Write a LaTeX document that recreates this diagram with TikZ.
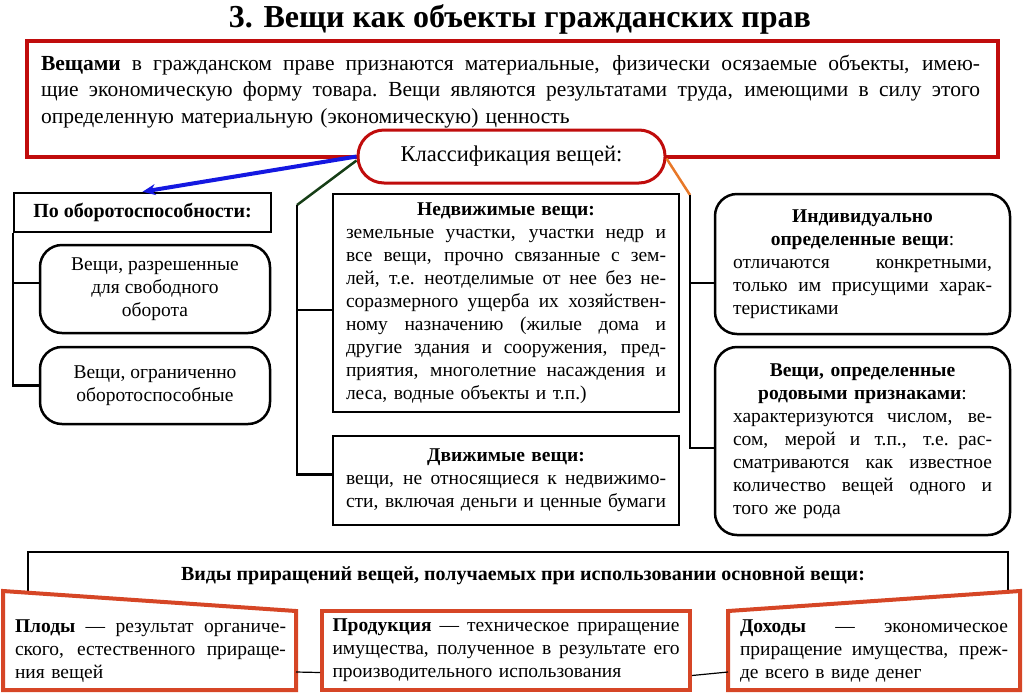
\documentclass[tikz,border=0pt]{standalone}
\usepackage{fontspec}
\setmainfont{Liberation Serif}
\usepackage{xcolor}
\usetikzlibrary{arrows.meta}
\usetikzlibrary{positioning}
\setlength{\parindent}{0pt}
\definecolor{boxred}{RGB}{192,12,12}
\definecolor{fruitred}{RGB}{214,70,38}
\definecolor{linkblue}{RGB}{20,24,225}
\definecolor{linkgreen}{RGB}{22,62,22}
\definecolor{linkorange}{RGB}{232,120,40}
\newcommand{\jfill}[1]{\leavevmode\hbox to\hsize{\spaceskip=0.25em plus 1fil\relax #1}}
\newcommand{\jline}[1]{\jfill{#1}\\}
\newcommand{\ctrline}[1]{\makebox[\hsize][c]{#1}\\}

\begin{document}
\begin{tikzpicture}[x=1pt,y=-1pt]
\tikzstyle{every node}=[font=\fontsize{19.5}{23}\selectfont, inner sep=0pt]
\tikzstyle{sqbox}=[draw, line width=2.5pt, fill=white]
\tikzstyle{rndbox}=[draw, line width=2.5pt, fill=white, rounded corners=22pt]
\tikzstyle{redbox}=[draw=fruitred, line width=4pt, fill=white]
\tikzstyle{para}=[align=left]
\tikzstyle{link}=[line width=2.5pt]
\tikzstyle{thinlink}=[line width=1.2pt]
\useasboundingbox (0,0) rectangle (1024,694);
\node [font=\bfseries\fontsize{32}{38}\selectfont] (title) at (520,19.5) {3. Вещи как объекты гражданских прав};
\node [draw=boxred, line width=4.5pt, minimum width=971pt, minimum height=116pt] (defbox) at (512.5,99) {};
\node [para, text width=939pt, font=\fontsize{21.5}{26.5}\selectfont] (deftext) at (510.5,91.5) {\jline{\textbf{Вещами} в гражданском праве признаются материальные, физически осязаемые объекты, имею-}\jline{щие экономическую форму товара. Вещи являются результатами труда, имеющими в силу этого}определенную материальную (экономическую) ценность};
\node [draw=boxred, line width=3pt, fill=white, minimum width=307pt, minimum height=53pt, rounded corners=26pt, font=\fontsize{22.5}{26}\selectfont] (cls) at (511.5,156.5) {Классификация вещей:};
\node [sqbox, minimum width=257pt, minimum height=39pt, font=\bfseries\fontsize{20}{23}\selectfont] (obor) at (142.5,212.5) {По оборотоспособности:};
\node [rndbox, minimum width=230pt, minimum height=88pt, align=center] (free) at (155,289) {Вещи, разрешенные\\для свободного\\оборота};
\node [rndbox, minimum width=230pt, minimum height=77pt, align=center] (lim) at (155,385.5) {Вещи, ограниченно\\оборотоспособные};
\node [sqbox, minimum width=346pt, minimum height=218pt, text width=320pt, para] (immov) at (506,303) {\ctrline{\textbf{Недвижимые вещи:}}\jline{земельные участки, участки недр и}\jline{все вещи, прочно связанные с зем-}\jline{лей, т.е. неотделимые от нее без не-}\jline{соразмерного ущерба их хозяйствен-}\jline{ному назначению (жилые дома и}\jline{другие здания и сооружения, пред-}\jline{приятия, многолетние насаждения и}леса, водные объекты и т.п.)};
\node [sqbox, minimum width=346pt, minimum height=89pt, text width=320pt, para] (mov) at (506,480.5) {\ctrline{\textbf{Движимые вещи:}}\jline{вещи, не относящиеся к недвижимо-}\jfill{сти, включая деньги и ценные бумаги}};
\node [rndbox, minimum width=295pt, minimum height=140pt, text width=259pt, para] (ind) at (862.5,264) {\ctrline{\textbf{Индивидуально}}\ctrline{\textbf{определенные вещи}:}\jline{отличаются конкретными,}\jline{только им присущими харак-}теристиками};
\node [rndbox, minimum width=295pt, minimum height=188pt, text width=259pt, para] (gen) at (862.5,441) {\ctrline{\textbf{Вещи, определенные}}\ctrline{\textbf{родовыми признаками}:}\jline{характеризуются числом, ве-}\jline{сом, мерой и т.п., т.е. рас-}\jline{сматриваются как известное}\jline{количество вещей одного и}того же рода};
\coordinate (gturn) at (297,205);
\coordinate (oturn) at (690,195);
\draw [link, draw=linkblue, line width=4pt, -{Stealth[length=13pt,width=11pt]}] (cls.west) -- (obor.north);
\draw [link, draw=linkgreen] ([yshift=-4pt]cls.west) -- (gturn);
\draw [link] (gturn) |- ([yshift=-7pt]immov.west);
\draw [link] (gturn) |- ([yshift=6pt]mov.west);
\draw [link, draw=linkorange] ([yshift=-2pt]cls.east) -- (oturn);
\draw [link] (oturn) |- ([yshift=-19pt]ind.west);
\draw [link] (oturn) |- ([yshift=-7pt]gen.west);
\draw [link] (obor.south west) |- ([yshift=6pt]free.west);
\draw [link] (obor.south west) |- (lim.west);
\draw [thinlink] (28,591) |- (1008,552) -- (1008,591);
\node [font=\bfseries\fontsize{20}{23}\selectfont] (kinds) at (523,576) {Виды приращений вещей, получаемых при использовании основной вещи:};
\draw [redbox] (3,591) -- (296,611) -- (296,690) -- (3,690) -- cycle;
\draw [redbox] (728,611) -- (1020,591) -- (1020,690) -- (728,690) -- cycle;
\node [text width=271pt, para] (fruits) at (150.5,651) {\jline{\textbf{Плоды} — результат органиче-}\jline{ского, естественного прираще-}ния вещей};
\node [redbox, minimum width=368pt, minimum height=79pt, text width=347pt, para] (prod) at (506,650.5) {\jline{\textbf{Продукция} — техническое приращение}\jline{имущества, полученное в результате его}производительного использования};
\node [text width=268pt, para] (income) at (874,651) {\jline{\textbf{Доходы} — экономическое}\jline{приращение имущества, преж-}де всего в виде денег};
\coordinate (fruitsR) at (296,672);
\coordinate (incomeL) at (728,672);
\draw [thinlink] (fruitsR) -- ([yshift=-22pt]prod.west);
\draw [thinlink] ([yshift=-25pt]prod.east) -- (incomeL);
\end{tikzpicture}
\end{document}
